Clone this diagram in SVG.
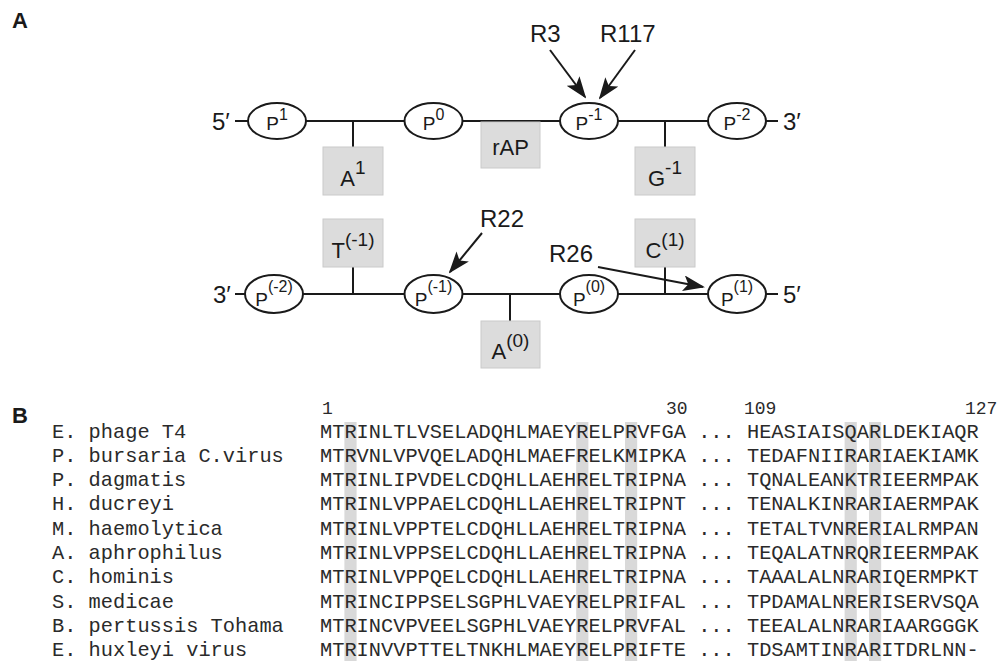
<svg xmlns="http://www.w3.org/2000/svg" width="1000" height="661" viewBox="0 0 1000 661">
<style>
.sans{font-family:"Liberation Sans",Arial,sans-serif;fill:#1a1a1a}
.lbl{font-size:24px}
.panel{font-size:22px;font-weight:bold}
.ell{fill:#fff;stroke:#1a1a1a;stroke-width:2}
.box{fill:#dcdcdc;stroke:#cacaca;stroke-width:1}
.ptxt{font-size:19px}
.btxt{font-size:22px}
.ln{stroke:#1a1a1a;stroke-width:2;fill:none}
.arr{stroke:#1a1a1a;stroke-width:2;fill:none;marker-end:url(#ah)}
.mono{font-family:"Courier New","Nimbus Mono PS","Nimbus Mono L","FreeMono","Liberation Mono",monospace;font-size:20.33px;fill:#2a2a2a;white-space:pre}
.num{font-size:18px}
.hl{fill:#d9d9d9}
</style>
<defs>
<marker id="ah" markerUnits="userSpaceOnUse" markerWidth="22" markerHeight="16" viewBox="0 0 22 16" refX="20" refY="8" orient="auto">
<path d="M0,0 L22,8 L0,16 L5,8 z" fill="#1a1a1a"/>
</marker>
</defs>
<rect width="1000" height="661" fill="#fff"/>
<text class="sans panel" x="12" y="28">A</text>
<text class="sans panel" x="12" y="423">B</text>
<g id="connectors">
<line class="ln" x1="235" y1="121" x2="778" y2="121"/>
<line class="ln" x1="235" y1="294" x2="778" y2="294"/>
<line class="ln" x1="353" y1="121" x2="353" y2="147"/>
<line class="ln" x1="665" y1="121" x2="665" y2="147"/>
<line class="ln" x1="353" y1="294" x2="353" y2="267"/>
<line class="ln" x1="510" y1="294" x2="510" y2="321"/>
<line class="ln" x1="665" y1="294" x2="665" y2="267"/>
<line class="arr" x1="550" y1="50" x2="585" y2="97"/>
<line class="arr" x1="635" y1="50" x2="600" y2="98"/>
<line class="arr" x1="482" y1="233" x2="450" y2="272"/>
<line class="arr" x1="598" y1="267" x2="703" y2="287"/>
</g>
<g id="ends">
<text class="sans lbl" x="212" y="130">5′</text>
<text class="sans lbl" x="783" y="130">3′</text>
<text class="sans lbl" x="213" y="303">3′</text>
<text class="sans lbl" x="783" y="303">5′</text>
</g>
<g id="arrow-labels">
<text class="sans lbl" x="530" y="42">R3</text>
<text class="sans lbl" x="600" y="42">R117</text>
<text class="sans lbl" x="480" y="227">R22</text>
<text class="sans lbl" x="549" y="262">R26</text>
</g>
<g id="p1"><ellipse class="ell" cx="277" cy="121" rx="29" ry="18"/><text class="sans ptxt" x="277" y="130" text-anchor="middle">P<tspan font-size="16" dy="-10">1</tspan></text></g>
<g id="p0"><ellipse class="ell" cx="433.5" cy="121" rx="29" ry="18"/><text class="sans ptxt" x="433.5" y="130" text-anchor="middle">P<tspan font-size="16" dy="-10">0</tspan></text></g>
<g id="pm1"><ellipse class="ell" cx="589" cy="121" rx="29" ry="18"/><text class="sans ptxt" x="589" y="130" text-anchor="middle">P<tspan font-size="16" dy="-10">-1</tspan></text></g>
<g id="pm2"><ellipse class="ell" cx="737" cy="121" rx="29" ry="18"/><text class="sans ptxt" x="737" y="130" text-anchor="middle">P<tspan font-size="16" dy="-10">-2</tspan></text></g>
<g id="a1"><rect class="box" x="323" y="147" width="60" height="48"/><text class="sans btxt" x="353" y="186" text-anchor="middle">A<tspan font-size="19" dy="-12">1</tspan></text></g>
<g id="rap"><rect class="box" x="481" y="122" width="59" height="46"/><text class="sans btxt" x="510.5" y="155" text-anchor="middle">rAP</text></g>
<g id="g1"><rect class="box" x="635" y="147" width="60" height="48"/><text class="sans btxt" x="665" y="186" text-anchor="middle">G<tspan font-size="19" dy="-12">-1</tspan></text></g>
<g id="bp2"><ellipse class="ell" cx="274" cy="294" rx="29" ry="19"/><text class="sans ptxt" x="274" y="306" text-anchor="middle">P<tspan font-size="16" dy="-14">(-2)</tspan></text></g>
<g id="bp1"><ellipse class="ell" cx="433.5" cy="294" rx="29" ry="19"/><text class="sans ptxt" x="433.5" y="306" text-anchor="middle">P<tspan font-size="16" dy="-14">(-1)</tspan></text></g>
<g id="bp0"><ellipse class="ell" cx="589" cy="294" rx="29" ry="19"/><text class="sans ptxt" x="589" y="306" text-anchor="middle">P<tspan font-size="16" dy="-14">(0)</tspan></text></g>
<g id="bpp1"><ellipse class="ell" cx="737" cy="294" rx="29" ry="19"/><text class="sans ptxt" x="737" y="306" text-anchor="middle">P<tspan font-size="16" dy="-14">(1)</tspan></text></g>
<g id="t1"><rect class="box" x="323" y="219" width="60" height="48"/><text class="sans btxt" x="353" y="258" text-anchor="middle">T<tspan font-size="19" dy="-12">(-1)</tspan></text></g>
<g id="a0"><rect class="box" x="481" y="321" width="59" height="47"/><text class="sans btxt" x="510.5" y="359" text-anchor="middle">A<tspan font-size="19" dy="-12">(0)</tspan></text></g>
<g id="c1"><rect class="box" x="635" y="219" width="60" height="48"/><text class="sans btxt" x="665" y="258" text-anchor="middle">C<tspan font-size="19" dy="-12">(1)</tspan></text></g>
<g id="alignment">
<rect class="hl" x="344.4" y="422" width="12.2" height="239"/>
<rect class="hl" x="576.2" y="422" width="12.2" height="239"/>
<rect class="hl" x="625" y="422" width="12.2" height="239"/>
<rect class="hl" x="844.6" y="422" width="12.2" height="239"/>
<rect class="hl" x="869" y="422" width="12.2" height="239"/>
<text class="mono num" x="322" y="414">1</text>
<text class="mono num" x="666" y="414">30</text>
<text class="mono num" x="744" y="414">109</text>
<text class="mono num" x="965" y="414">127</text>
<text class="mono" x="52" y="437.5">E. phage T4</text>
<text class="mono" x="320" y="437.5">MTRINLTLVSELADQHLMAEYRELPRVFGA ... HEASIAISQARLDEKIAQR</text>
<text class="mono" x="52" y="461.8">P. bursaria C.virus</text>
<text class="mono" x="320" y="461.8">MTRVNLVPVQELADQHLMAEFRELKMIPKA ... TEDAFNIIRARIAEKIAMK</text>
<text class="mono" x="52" y="486.1">P. dagmatis</text>
<text class="mono" x="320" y="486.1">MTRINLIPVDELCDQHLLAEHRELTRIPNA ... TQNALEANKTRIEERMPAK</text>
<text class="mono" x="52" y="510.4">H. ducreyi</text>
<text class="mono" x="320" y="510.4">MTRINLVPPAELCDQHLLAEHRELTRIPNT ... TENALKINRARIAERMPAK</text>
<text class="mono" x="52" y="534.7">M. haemolytica</text>
<text class="mono" x="320" y="534.7">MTRINLVPPTELCDQHLLAEHRELTRIPNA ... TETALTVNRERIALRMPAN</text>
<text class="mono" x="52" y="559">A. aphrophilus</text>
<text class="mono" x="320" y="559">MTRINLVPPSELCDQHLLAEHRELTRIPNA ... TEQALATNRQRIEERMPAK</text>
<text class="mono" x="52" y="583.3">C. hominis</text>
<text class="mono" x="320" y="583.3">MTRINLVPPQELCDQHLLAEHRELTRIPNA ... TAAALALNRARIQERMPKT</text>
<text class="mono" x="52" y="607.6">S. medicae</text>
<text class="mono" x="320" y="607.6">MTRINCIPPSELSGPHLVAEYRELPRIFAL ... TPDAMALNRERISERVSQA</text>
<text class="mono" x="52" y="631.9">B. pertussis Tohama</text>
<text class="mono" x="320" y="631.9">MTRINCVPVEELSGPHLVAEYRELPRVFAL ... TEEALALNRARIAARGGGK</text>
<text class="mono" x="52" y="656.2">E. huxleyi virus</text>
<text class="mono" x="320" y="656.2">MTRINVVPTTELTNKHLMAEYRELPRIFTE ... TDSAMTINRARITDRLNN-</text>
</g>
</svg>
